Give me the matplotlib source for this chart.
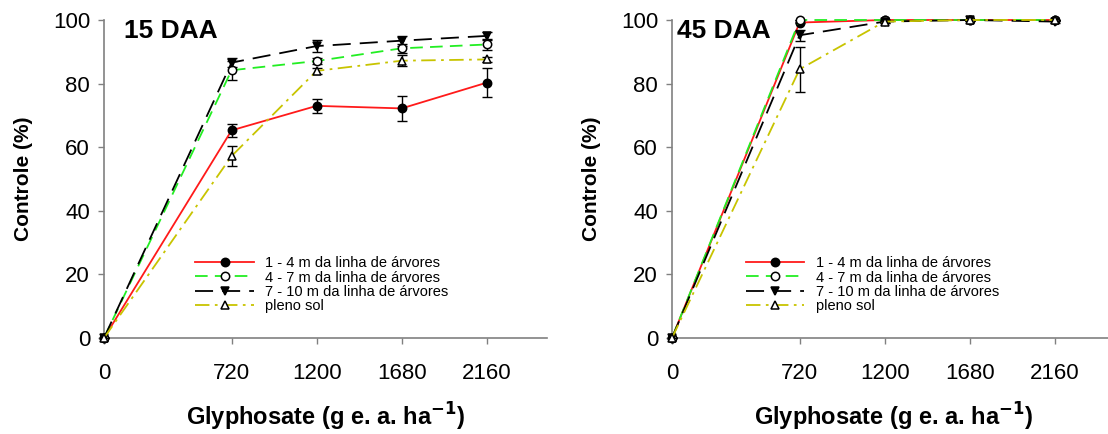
import matplotlib
matplotlib.use('Agg')
import matplotlib.pyplot as plt

plt.rcParams['font.family'] = ['Liberation Sans', 'DejaVu Sans']

dose = [0, 720, 1200, 1680, 2160]
labels = ['1 - 4 m da linha de árvores', '4 - 7 m da linha de árvores',
          '7 - 10 m da linha de árvores', 'pleno sol']

# 15 DAA
d15_1_4 = [0, 65.3, 73.0, 72.2, 80.3]
d15_1_4_err = [0, 2.0, 2.3, 4.0, 4.6]
d15_4_7 = [0, 84.2, 87.1, 91.1, 92.3]
d15_4_7_err = [0, 3.0, 1.0, 1.5, 1.8]
d15_7_10 = [0, 86.6, 91.8, 93.5, 95.0]
d15_7_10_err = [0, 1.5, 2.0, 1.6, 1.3]
d15_sol = [0, 57.2, 84.0, 87.2, 87.6]
d15_sol_err = [0, 3.2, 1.0, 1.8, 0.8]

# 45 DAA
d45_1_4 = [0, 99.2, 100, 100, 100]
d45_1_4_err = [0, 0.3, 0, 0, 0]
d45_4_7 = [0, 100, 100, 100, 100]
d45_4_7_err = [0, 0, 0, 0, 0]
d45_7_10 = [0, 95.2, 99.5, 100, 99.5]
d45_7_10_err = [0, 1.8, 0.4, 0.2, 0.4]
d45_sol = [0, 84.5, 99.5, 100, 100]
d45_sol_err = [0, 7.1, 0.4, 0, 0.3]

styles = [
    dict(color='#ff1a1a', ls='-', marker='o', mfc='black', dashes=None),
    dict(color='#22ee22', ls='--', marker='o', mfc='white', dashes=(7, 4)),
    dict(color='black', ls='--', marker='v', mfc='black', dashes=(10, 5)),
    dict(color='#c8c400', ls='-.', marker='^', mfc='white', dashes=(8, 3, 1.5, 3)),
]

fig = plt.figure(figsize=(11.08, 4.34), dpi=100)
ax1 = fig.add_axes([104 / 1108, 96 / 434, 443 / 1108, 318 / 434])
ax2 = fig.add_axes([672 / 1108, 96 / 434, 443 / 1108, 318 / 434])

panels = [
    (ax1, '15 DAA', [d15_1_4, d15_4_7, d15_7_10, d15_sol],
     [d15_1_4_err, d15_4_7_err, d15_7_10_err, d15_sol_err], 0.045, 0.21),
    (ax2, '45 DAA', [d45_1_4, d45_4_7, d45_7_10, d45_sol],
     [d45_1_4_err, d45_4_7_err, d45_7_10_err, d45_sol_err], 0.012, 0.17),
]

for ax, title, series, errs, tx, lx in panels:
    order = [3, 2, 0, 1]
    handles = [None] * 4
    for i in order:
        st = styles[i]
        kw = dict(color=st['color'], lw=1.3, marker=st['marker'], ms=6,
                  mfc=st['mfc'], mec='black', mew=1.1, clip_on=False,
                  zorder=3 + i)
        if st['dashes'] is not None:
            kw['dashes'] = st['dashes']
        line, = ax.plot(dose, series[i], label=labels[i], **kw)
        handles[i] = line
        ax.errorbar(dose, series[i], yerr=errs[i], fmt='none', ecolor='black',
                    elinewidth=1, capsize=3.5, capthick=1, zorder=2 + i)

    ax.set_xlim(0, 2500)
    ax.set_ylim(0, 100)
    ax.set_xticks(dose)
    ax.set_yticks([0, 20, 40, 60, 80, 100])
    for s in ['top', 'right']:
        ax.spines[s].set_visible(False)
    for s in ['left', 'bottom']:
        ax.spines[s].set_color('#808080')
        ax.spines[s].set_linewidth(1.2)
    ax.tick_params(direction='out', length=4, width=1, color='#808080',
                   labelsize=16)
    ax.tick_params(axis='x', pad=14)
    ax.tick_params(axis='y', pad=6)
    ax.set_ylabel('Controle (%)', fontsize=15, fontweight='bold', labelpad=14)
    ax.set_xlabel('Glyphosate (g e. a. ha$^{\\mathbf{-1}}$)', fontsize=17,
                  fontweight='bold', labelpad=12)
    ax.text(tx, 0.965, title, transform=ax.transAxes, fontsize=19,
            fontweight='bold', va='center', ha='left')
    ax.legend(handles=handles, loc='upper left', bbox_to_anchor=(lx - 0.02, 0.28),
              frameon=False, fontsize=10.5, handlelength=4, labelspacing=0.02,
              handletextpad=0.8, borderpad=0)

fig.savefig('out.png', dpi=100)
